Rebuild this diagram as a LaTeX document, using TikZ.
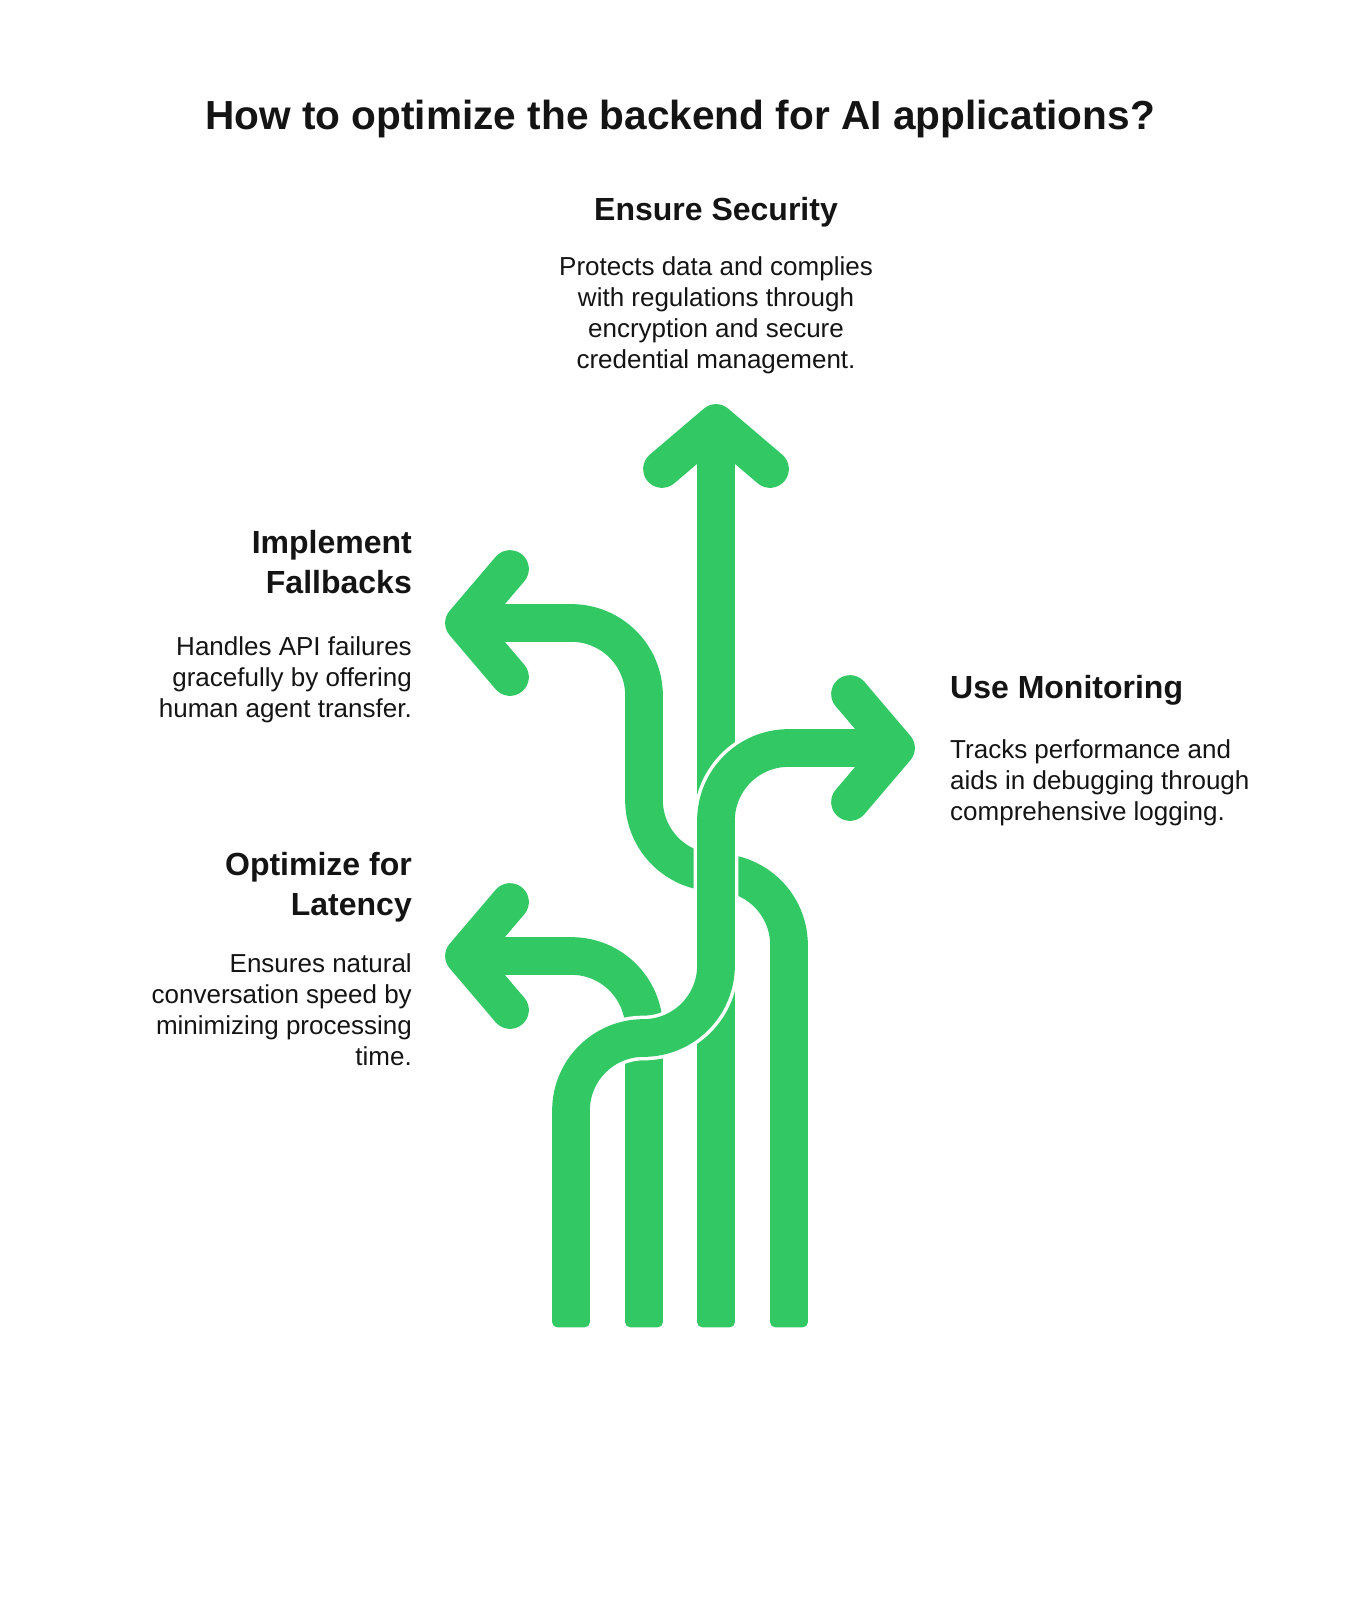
\documentclass[tikz,border=0pt]{standalone}
\usepackage{fontspec}
\setmainfont{Liberation Sans}
\definecolor{laneGreen}{RGB}{50,200,99}
\definecolor{inkBlack}{RGB}{20,20,20}
\begin{document}
\begin{tikzpicture}
[x=1pt,y=-1pt,
  laneDecorate/.style={draw=laneGreen,line width=37.7pt,line cap=butt,rounded corners=72.5pt},
  gapDecorate/.style={draw=white,line width=44.7pt,line cap=butt,rounded corners=72.5pt},
  headDecorate/.style={draw=laneGreen,line width=37.7pt,line cap=round,line join=round},
  titleDecorate/.style={inner sep=0pt,text=inkBlack,font=\bfseries\fontsize{40.6}{48}\selectfont},
  headingDecorate/.style={inner sep=0pt,text=inkBlack,font=\bfseries\fontsize{32}{40}\selectfont},
  bodyDecorate/.style={inner sep=0pt,text=inkBlack,font=\fontsize{26}{31}\selectfont}]
\useasboundingbox (0,0) rectangle (1359,1600);
%% lane starts at the bottom
\foreach \lanename/\x in {laneA/571, laneB/644, laneC/716, laneD/789}
  \coordinate (\lanename) at (\x,1300);
%% arrow tips
\coordinate (secTip) at (716,423);
\coordinate (fallTip) at (464,623);
\coordinate (latTip) at (464,956);
\coordinate (monTip) at (896,748);
%% lanes under the monitoring lane
\draw[laneDecorate] (laneC) -- (secTip);
\draw[laneDecorate] (laneD) -- (789,872.5) -- (644,872.5) -- (644,623) -- (fallTip);
\draw[laneDecorate] (laneB) -- (644,956) -- (latTip);
%% monitoring lane on top, with a white rim
\foreach \look in {gapDecorate, laneDecorate}
  \draw[\look] (laneA) -- (571,1038) -- (716,1038) -- (716,748) -- (monTip);
%% rounded lane ends
\foreach \x in {571, 644, 716, 789}
  \fill[laneGreen,rounded corners=5pt] (\x-18.85,1290) rectangle (\x+18.85,1327.3);
%% arrow heads
\foreach \tipname/\ax/\ay/\bx/\by in {
  secTip/-54/46/54/46, fallTip/46/-54/46/54, latTip/46/-54/46/54, monTip/-46/-54/-46/54}
{
  \draw[headDecorate] ([shift={(\ax,\ay)}]\tipname) -- (\tipname) -- ([shift={(\bx,\by)}]\tipname);
}
%% texts
\node[titleDecorate,anchor=north] (title) at (680,99.5) {How to optimize the backend for AI applications?};
\node[headingDecorate,anchor=north] (secHead) at (716,196.7) {Ensure Security};
\node[bodyDecorate,align=center,anchor=north] (secText) at (716,256)
  {Protects data and complies\\with regulations through\\encryption and secure\\credential management.};
\node[headingDecorate,align=right,anchor=north east] (fallHead) at (412,530) {Implement\\Fallbacks};
\node[bodyDecorate,align=right,anchor=north east] (fallText) at (412,636.4)
  {Handles API failures\\gracefully by offering\\human agent transfer.};
\node[headingDecorate,align=right,anchor=north east] (latHead) at (412,851.8) {Optimize for\\Latency};
\node[bodyDecorate,align=right,anchor=north east] (latText) at (412,953)
  {Ensures natural\\conversation speed by\\minimizing processing\\time.};
\node[headingDecorate,anchor=north west] (monHead) at (950,675) {Use Monitoring};
\node[bodyDecorate,align=left,anchor=north west] (monText) at (950,739.4)
  {Tracks performance and\\aids in debugging through\\comprehensive logging.};
\end{tikzpicture}
\end{document}
